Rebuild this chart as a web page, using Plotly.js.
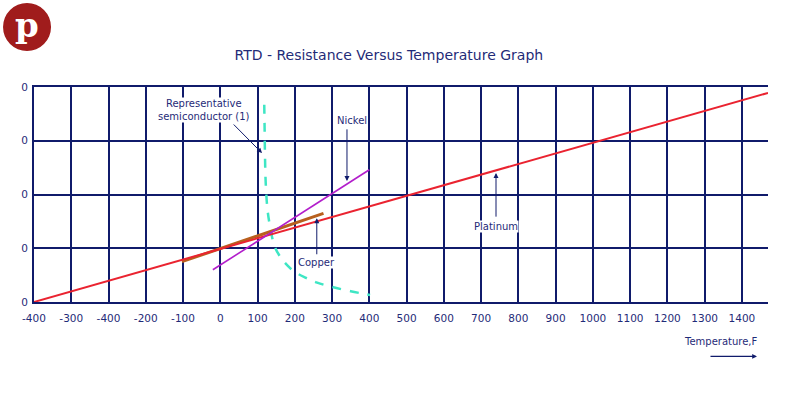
<!DOCTYPE html>
<html>
<head>
<meta charset="utf-8">
<script src="https://cdn.plot.ly/plotly-3.0.1.min.js"></script>
<style>html,body{margin:0;padding:0;background:#fff}#chart{width:800px;height:400px}</style>
</head>
<body>
<div id="chart"></div>
<script>
// ---- data (temperature in °F on x, relative resistance grid units on y) ----
const xTickVals = [-500, -400, -300, -200, -100, 0, 100, 200, 300, 400, 500, 600, 700, 800, 900, 1000, 1100, 1200, 1300, 1400];
const xTickText = ['-400', '-300', '-400', '-200', '-100', '0', '100', '200', '300', '400', '500', '600', '700', '800', '900', '1000', '1100', '1200', '1300', '1400'];
const yTickVals = [0, 1, 2, 3, 4];
const yTickText = ['0', '0', '0', '0', '0'];

const platinumX = [-500, 1470];
const platinumY = [0, 3.89];

const nickelX = [-20, 400];
const nickelY = [0.6, 2.46];

const copperX = [-103, 277];
const copperY = [0.75, 1.65];

const semiX = [118, 119, 120, 122, 127, 135, 145, 160, 180, 200, 230, 260, 300, 350, 402];
const semiY = [3.67, 3.2, 2.7, 2.2, 1.7, 1.35, 1.05, 0.85, 0.68, 0.56, 0.45, 0.36, 0.28, 0.2, 0.13];

const navy = '#101b6b';
const textNavy = '#1f2b78';
const font = 'DejaVu Sans, Verdana, sans-serif';

const traces = [
  {x: semiX, y: semiY, mode: 'lines', line: {color: '#3ee6c4', width: 2.5, dash: 'dash', shape: 'spline'}, hoverinfo: 'skip'},
  {x: copperX, y: copperY, mode: 'lines', line: {color: '#b8601e', width: 3}, hoverinfo: 'skip'},
  {x: platinumX, y: platinumY, mode: 'lines', line: {color: '#ea2330', width: 2}, hoverinfo: 'skip'},
  {x: nickelX, y: nickelY, mode: 'lines', line: {color: '#b21ecb', width: 1.6}, hoverinfo: 'skip'}
];

function label(txt, x, y) {
  return {text: txt, x: x, y: y, xref: 'x', yref: 'y', showarrow: false, xanchor: 'center', yanchor: 'middle',
    font: {family: font, size: 10, color: textNavy}, bgcolor: '#ffffff', borderpad: 0};
}
function arrow(x, y, ax, ay) {
  return {text: '', x: x, y: y, ax: ax, ay: ay, xref: 'x', yref: 'y', axref: 'x', ayref: 'y',
    showarrow: true, arrowhead: 2, arrowsize: 1, arrowwidth: 1, arrowcolor: navy};
}

const annotations = [
  arrow(112, 2.77, 32, 3.33),
  label('Representative<br>semiconductor (1)', -43, 3.57),
  arrow(340, 2.25, 340, 3.24),
  label('Nickel', 354, 3.37),
  arrow(259, 1.56, 259, 0.86),
  label('Copper', 257, 0.74),
  arrow(740, 2.40, 740, 1.56),
  label('Platinum', 740, 1.40),
  {text: 'Temperature,F', xref: 'paper', yref: 'paper', x: 0.936, y: -0.183, xanchor: 'center', yanchor: 'middle',
    showarrow: false, font: {family: font, size: 10, color: textNavy}},
  {text: '', xref: 'paper', yref: 'paper', x: 0.985, y: -0.253, ax: -48, ay: 0, axref: 'pixel', ayref: 'pixel',
    showarrow: true, arrowhead: 2, arrowsize: 0.8, arrowwidth: 1.2, arrowcolor: navy},
  {text: '<b>p</b>', xref: 'paper', yref: 'paper', x: -0.0095, y: 1.29, xanchor: 'center', yanchor: 'middle',
    showarrow: false, font: {family: 'DejaVu Serif, serif', size: 34, color: '#ffffff'}}
];

const layout = {
  width: 800, height: 400,
  margin: {l: 34, r: 32, t: 87, b: 98},
  paper_bgcolor: '#ffffff', plot_bgcolor: '#ffffff',
  showlegend: false,
  title: {text: 'RTD - Resistance Versus Temperature Graph', x: 0.486, xanchor: 'center', y: 0.862, yanchor: 'middle',
    font: {family: font, size: 14, color: textNavy}},
  xaxis: {range: [-500, 1470], tickvals: xTickVals, ticktext: xTickText, showgrid: true, gridcolor: navy, gridwidth: 2,
    zeroline: false, showline: true, linecolor: navy, linewidth: 2, mirror: true, ticks: '', ticklabelstandoff: 5,
    tickfont: {family: font, size: 10.5, color: textNavy}, fixedrange: true},
  yaxis: {range: [0, 4], tickvals: yTickVals, ticktext: yTickText, showgrid: true, gridcolor: navy, gridwidth: 2,
    zeroline: false, showline: true, linecolor: navy, linewidth: 2, ticks: '', ticklabelstandoff: 2,
    tickfont: {family: font, size: 10.5, color: textNavy}, fixedrange: true},
  shapes: [
    {type: 'circle', xref: 'paper', yref: 'paper', x0: -0.0422, x1: 0.0232, y0: 1.1674, y1: 1.3907,
      fillcolor: '#a01c1c', line: {color: '#a01c1c', width: 0}, layer: 'above'}
  ],
  annotations: annotations
};

Plotly.newPlot('chart', traces, layout, {displayModeBar: false, staticPlot: true});
</script>
</body>
</html>
